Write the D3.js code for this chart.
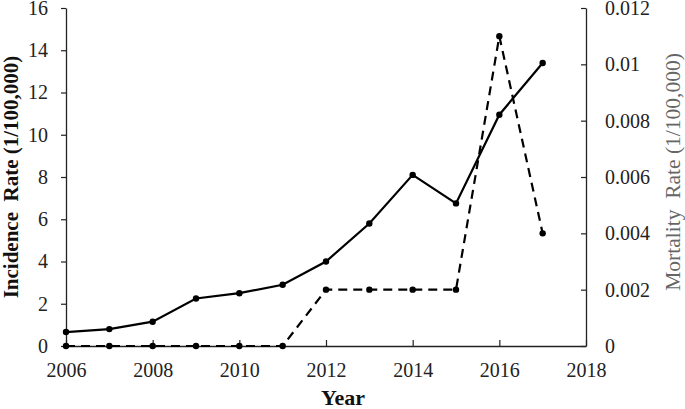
<!DOCTYPE html>
<html>
<head>
<meta charset="utf-8">
<script src="https://cdn.jsdelivr.net/npm/d3@7"></script>
<style>
  body { margin: 0; background: #fff; }
  svg text { font-family: "Liberation Serif", "Times New Roman", serif; }
</style>
</head>
<body>
<div id="chart"></div>
<script>
var years = [2006, 2007, 2008, 2009, 2010, 2011, 2012, 2013, 2014, 2015, 2016, 2017];
var incidence = [0.66, 0.8, 1.15, 2.25, 2.5, 2.9, 4.0, 5.8, 8.1, 6.75, 10.95, 13.4];
var mortality = [0, 0, 0, 0, 0, 0, 0.002, 0.002, 0.002, 0.002, 0.011, 0.004];
var xTicks = [2006, 2008, 2010, 2012, 2014, 2016, 2018];
var leftTicks = [0, 2, 4, 6, 8, 10, 12, 14, 16];
var rightTicks = [0, 0.002, 0.004, 0.006, 0.008, 0.01, 0.012];

var W = 685, H = 409;
var plotL = 66, plotR = 586, plotT = 8, plotB = 346;

var svg = d3.select("#chart").append("svg")
    .attr("width", W)
    .attr("height", H);

var x = d3.scaleLinear().domain([2006, 2018]).range([plotL, plotR]);
var yL = d3.scaleLinear().domain([0, 16]).range([plotB, plotT]);
var yR = d3.scaleLinear().domain([0, 0.012]).range([plotB, plotT]);

// x axis, ticks pointing up
var xAxis = svg.append("g")
    .attr("transform", "translate(0," + plotB + ")")
    .call(d3.axisBottom(x).tickValues(xTicks).tickFormat(d3.format("d"))
      .tickSizeInner(-6).tickSizeOuter(0).tickPadding(17));
xAxis.selectAll("text").attr("font-size", 20).attr("fill", "#222");

// left axis
var lAxis = svg.append("g")
    .attr("transform", "translate(" + plotL + ",0)")
    .call(d3.axisLeft(yL).tickValues(leftTicks).tickSizeInner(5).tickSizeOuter(0).tickPadding(13));
lAxis.selectAll("text").attr("font-size", 20).attr("fill", "#222");

// right axis, ticks pointing in
var rAxis = svg.append("g")
    .attr("transform", "translate(" + plotR + ",0)")
    .call(d3.axisRight(yR).tickValues(rightTicks).tickFormat(function(d){ return d === 0 ? "0" : String(+d.toFixed(3)); })
      .tickSizeInner(-5).tickSizeOuter(0).tickPadding(19));
rAxis.selectAll("text").attr("font-size", 20).attr("fill", "#222");

svg.selectAll(".domain").attr("stroke", "#222").attr("stroke-width", 1.3);
svg.selectAll(".tick line").attr("stroke", "#222").attr("stroke-width", 1.2);

// incidence line (solid)
var lineInc = d3.line().x(function(d, i){ return x(years[i]); }).y(function(d){ return yL(d); });
svg.append("path")
    .datum(incidence)
    .attr("d", lineInc)
    .attr("fill", "none")
    .attr("stroke", "#000")
    .attr("stroke-width", 2.2);
svg.selectAll(".dotInc").data(incidence).enter().append("circle")
    .attr("class", "dotInc")
    .attr("cx", function(d, i){ return x(years[i]); })
    .attr("cy", function(d){ return yL(d); })
    .attr("r", 3.2)
    .attr("fill", "#000");

// mortality line (dashed)
var lineMort = d3.line().x(function(d, i){ return x(years[i]); }).y(function(d){ return yR(d); });
svg.append("path")
    .datum(mortality)
    .attr("d", lineMort)
    .attr("fill", "none")
    .attr("stroke", "#000")
    .attr("stroke-width", 2.2)
    .attr("stroke-dasharray", "9,6");
svg.selectAll(".dotMort").data(mortality).enter().append("circle")
    .attr("class", "dotMort")
    .attr("cx", function(d, i){ return x(years[i]); })
    .attr("cy", function(d){ return yR(d); })
    .attr("r", 3.2)
    .attr("fill", "#000");

// axis titles
svg.append("text")
    .attr("transform", "translate(18,177) rotate(-90)")
    .attr("text-anchor", "middle")
    .attr("font-size", 21)
    .attr("font-weight", "bold")
    .attr("fill", "#111")
    .attr("xml:space", "preserve")
    .style("white-space", "pre")
    .text("Incidence  Rate (1/100,000)");

svg.append("text")
    .attr("transform", "translate(680,172) rotate(-90)")
    .attr("text-anchor", "middle")
    .attr("font-size", 21.5)
    .attr("fill", "#666")
    .style("white-space", "pre")
    .text("Mortality  Rate (1/100,000)");

svg.append("text")
    .attr("x", 343)
    .attr("y", 405)
    .attr("text-anchor", "middle")
    .attr("font-size", 22)
    .attr("font-weight", "bold")
    .attr("fill", "#111")
    .text("Year");
</script>
</body>
</html>
